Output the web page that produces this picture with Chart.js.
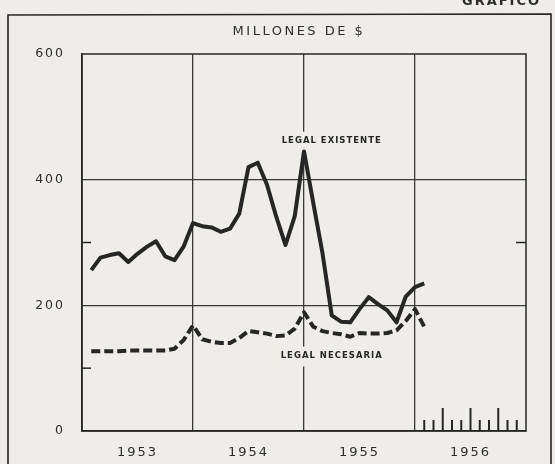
<!DOCTYPE html>
<html>
<head>
<meta charset="utf-8">
<script src="https://cdn.jsdelivr.net/npm/chart.js@4.4.1/dist/chart.umd.min.js"></script>
<style>
  html, body { margin: 0; padding: 0; background: #eeede9; }
  #wrap { width: 555px; height: 464px; position: relative; }
</style>
</head>
<body>
<div id="wrap"><canvas id="grafico"></canvas></div>
<script>
// meses: ene 1953 ... ene 1956 (valor a fin de mes)
var meses = [
  'ene 1953','feb 1953','mar 1953','abr 1953','may 1953','jun 1953','jul 1953','ago 1953','sep 1953','oct 1953','nov 1953','dic 1953',
  'ene 1954','feb 1954','mar 1954','abr 1954','may 1954','jun 1954','jul 1954','ago 1954','sep 1954','oct 1954','nov 1954','dic 1954',
  'ene 1955','feb 1955','mar 1955','abr 1955','may 1955','jun 1955','jul 1955','ago 1955','sep 1955','oct 1955','nov 1955','dic 1955',
  'ene 1956'
];
var anios = ['1953', '1954', '1955', '1956'];

// millones de $
var legalExistente = [
  256, 276, 280, 283, 269, 282, 293, 302, 278, 272, 294, 331,
  326, 324, 317, 322, 346, 420, 427, 392, 341, 296, 342, 445,
  363, 283, 184, 174, 173, 194, 213, 202, 192, 173, 214, 229,
  235
];
var legalNecesaria = [
  127, 127, 127, 127, 128, 128, 128, 128, 128, 131, 145, 168,
  146, 142, 140, 140, 148, 159, 157, 155, 151, 152, 163, 189,
  166, 159, 156, 154, 150, 156, 155, 155, 156, 160, 175, 194,
  166
];
var yTicks = [0, 200, 400, 600];

var tinta = '#262626';
var papel = '#eeede9';

function puntos(serie) {
  return serie.map(function (v, i) { return { x: i + 1, y: v }; });
}

var decorado = {
  id: 'decorado',
  beforeDraw: function (chart) {
    var ctx = chart.ctx;
    ctx.save();
    ctx.fillStyle = papel;
    ctx.fillRect(0, 0, chart.width, chart.height);
    // marco exterior
    ctx.strokeStyle = tinta;
    ctx.lineWidth = 1.6;
    ctx.beginPath();
    ctx.moveTo(8, 470);
    ctx.lineTo(8, 15);
    ctx.lineTo(551, 14);
    ctx.lineTo(551, 470);
    ctx.stroke();
    ctx.fillStyle = '#2e2e2e';
    ctx.textBaseline = 'alphabetic';
    ctx.letterSpacing = '2px';
    ctx.font = 'bold 13px "DejaVu Sans"';
    ctx.textAlign = 'left';
    ctx.fillText('GRAFICO', 462, 5);
    ctx.letterSpacing = '2.5px';
    ctx.font = '13px "DejaVu Sans"';
    ctx.textAlign = 'center';
    ctx.fillText('MILLONES DE $', 299, 35);
    ctx.restore();
    ctx.letterSpacing = '2px';
  },
  beforeDatasetsDraw: function (chart) {
    var ctx = chart.ctx;
    var a = chart.chartArea;
    var xs = chart.scales.x, ys = chart.scales.y;
    ctx.save();
    ctx.setLineDash([]);
    ctx.strokeStyle = tinta;
    ctx.lineWidth = 1.5;
    ctx.strokeRect(a.left, a.top, a.right - a.left, a.bottom - a.top);
    // marcas menores del eje vertical
    ctx.lineWidth = 1.5;
    [100, 300].forEach(function (v) {
      var y = ys.getPixelForValue(v);
      ctx.beginPath(); ctx.moveTo(a.left, y); ctx.lineTo(a.left + 9, y); ctx.stroke();
    });
    var y3 = ys.getPixelForValue(300);
    ctx.beginPath(); ctx.moveTo(a.right, y3); ctx.lineTo(a.right - 10, y3); ctx.stroke();
    // marcas mensuales de 1956
    ctx.lineWidth = 2;
    for (var m = 37; m <= 47; m++) {
      var x = xs.getPixelForValue(m);
      var h = (m % 3 === 0) ? 23 : 11;
      ctx.beginPath(); ctx.moveTo(x, a.bottom); ctx.lineTo(x, a.bottom - h); ctx.stroke();
    }
    // rótulos de las series
    ctx.letterSpacing = '1px';
    ctx.font = 'bold 8.5px "DejaVu Sans"';
    ctx.textAlign = 'center';
    ctx.textBaseline = 'middle';
    [['LEGAL EXISTENTE', 27, 462], ['LEGAL NECESARIA', 27, 120]].forEach(function (r) {
      var px = xs.getPixelForValue(r[1]), py = ys.getPixelForValue(r[2]);
      var w = ctx.measureText(r[0]).width;
      ctx.fillStyle = papel;
      ctx.fillRect(px - w / 2 - 3, py - 9, w + 6, 20);
      ctx.fillStyle = tinta;
      ctx.fillText(r[0], px, py);
    });
    ctx.restore();
  },
  afterDraw: function (chart) {
    chart.ctx.letterSpacing = '0px';
  }
};

new Chart(document.getElementById('grafico'), {
  type: 'line',
  data: {
    labels: meses,
    datasets: [
      {
        label: 'Legal existente',
        data: puntos(legalExistente),
        borderColor: tinta,
        borderWidth: 4,
        borderJoinStyle: 'round',
        pointRadius: 0,
        tension: 0
      },
      {
        label: 'Legal necesaria',
        data: puntos(legalNecesaria),
        borderColor: tinta,
        borderWidth: 4,
        borderDash: [9, 4],
        borderJoinStyle: 'round',
        pointRadius: 0,
        tension: 0
      }
    ]
  },
  options: {
    responsive: true,
    maintainAspectRatio: false,
    devicePixelRatio: 1,
    animation: false,
    layout: { padding: { top: 54, right: 29, left: 0, bottom: 0 } },
    plugins: {
      legend: { display: false },
      tooltip: { enabled: false }
    },
    scales: {
      x: {
        type: 'linear',
        min: 0,
        max: 48,
        afterBuildTicks: function (s) {
          var t = [];
          for (var v = 0; v <= 48; v += 6) t.push({ value: v });
          s.ticks = t;
        },
        afterFit: function (s) { s.height = 33; },
        ticks: {
          autoSkip: false,
          maxRotation: 0,
          padding: 14,
          color: '#2e2e2e',
          font: { family: 'DejaVu Sans', size: 13 },
          callback: function (v) {
            return (v % 12 === 6) ? anios[(v - 6) / 12] : '';
          }
        },
        grid: {
          drawTicks: false,
          lineWidth: 1.3,
          color: function (c) {
            var v = c.tick && c.tick.value;
            return (v === 12 || v === 24 || v === 36) ? '#3a3a3a' : 'rgba(0,0,0,0)';
          }
        },
        border: { display: true, color: tinta, width: 1.5 }
      },
      y: {
        min: 0,
        max: 600,
        afterBuildTicks: function (s) {
          s.ticks = yTicks.map(function (v) { return { value: v }; });
        },
        afterFit: function (s) { s.width = 82; },
        ticks: {
          padding: 17,
          color: '#2e2e2e',
          font: { family: 'DejaVu Sans', size: 12.5 },
          callback: function (v) { return String(v); }
        },
        grid: {
          drawTicks: false,
          lineWidth: 1.3,
          color: function (c) {
            var v = c.tick && c.tick.value;
            return (v === 200 || v === 400) ? '#3a3a3a' : 'rgba(0,0,0,0)';
          }
        },
        border: { display: true, color: tinta, width: 1.5 }
      }
    }
  },
  plugins: [decorado]
});
</script>
</body>
</html>
